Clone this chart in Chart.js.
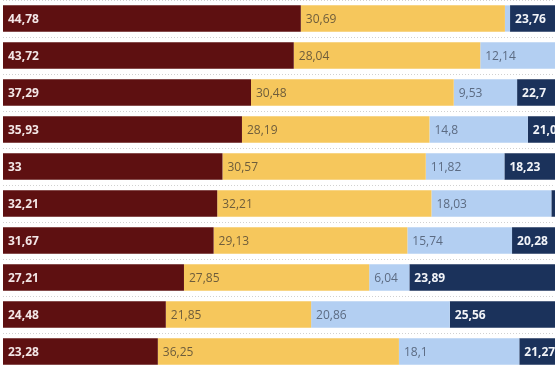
<!DOCTYPE html>
<html>
<head>
<meta charset="utf-8">
<script src="https://cdn.jsdelivr.net/npm/chart.js@4/dist/chart.umd.min.js"></script>
<style>
  html, body { margin: 0; padding: 0; background: #fff; }
  #chart { display: block; }
</style>
</head>
<body>
<canvas id="chart" width="555" height="370"></canvas>
<script>
// rows top to bottom
const categories = ['1', '2', '3', '4', '5', '6', '7', '8', '9', '10'];

const serieA = [44.78, 43.72, 37.29, 35.93, 33, 32.21, 31.67, 27.21, 24.48, 23.28];
const serieB = [30.69, 28.04, 30.48, 28.19, 30.57, 32.21, 29.13, 27.85, 21.85, 36.25];
const serieC = [0.77, 12.14, 9.53, 14.8, 11.82, 18.03, 15.74, 6.04, 20.86, 18.1];
const serieD = [23.76, 16.1, 22.7, 21.08, 18.23, 17.55, 20.28, 23.89, 25.56, 21.27];

const seriesNames = ['Serie A', 'Serie B', 'Serie C', 'Serie D'];

// label colours / weight per series
const labelStyle = [
  { color: '#f3e6e6', weight: 'bold' },
  { color: '#6e5d3c', weight: 'normal' },
  { color: '#5c6b82', weight: 'normal' },
  { color: '#f2f4f8', weight: 'bold' }
];

const fmt = (v) => String(v).replace('.', ',');

const barLabels = {
  id: 'barLabels',
  afterDatasetsDraw(chart) {
    const ctx = chart.ctx;
    ctx.save();
    ctx.textBaseline = 'middle';
    ctx.textAlign = 'left';
    chart.data.datasets.forEach((ds, i) => {
      const meta = chart.getDatasetMeta(i);
      const st = labelStyle[i];
      ctx.fillStyle = st.color;
      ctx.font = st.weight + ' 12px "Open Sans", sans-serif';
      meta.data.forEach((bar, j) => {
        const v = ds.data[j];
        if (v < 3) return;
        const p = bar.getProps(['x', 'y', 'base'], true);
        const left = Math.min(p.x, p.base);
        ctx.fillText(fmt(v), left + 5, p.y + 1);
      });
    });
    ctx.restore();
  }
};

new Chart(document.getElementById('chart'), {
  type: 'bar',
  data: {
    labels: categories,
    datasets: [
      { label: seriesNames[0], data: serieA, backgroundColor: '#5e1011' },
      { label: seriesNames[1], data: serieB, backgroundColor: '#f6c75c' },
      { label: seriesNames[2], data: serieC, backgroundColor: '#b3cff2' },
      { label: seriesNames[3], data: serieD, backgroundColor: '#1b325b' }
    ]
  },
  options: {
    indexAxis: 'y',
    responsive: false,
    animation: false,
    layout: { padding: { left: 3, right: 0, top: -3, bottom: -1 } },
    datasets: {
      bar: { barPercentage: 0.71, categoryPercentage: 1 }
    },
    plugins: {
      legend: { display: false },
      tooltip: { enabled: false }
    },
    scales: {
      x: {
        stacked: true,
        display: false,
        min: 0,
        max: 83
      },
      y: {
        stacked: true,
        ticks: { display: false },
        border: { display: false },
        grid: {
          offset: true,
          drawTicks: false,
          color: 'rgba(190, 190, 190, 0.7)',
          lineWidth: 1
        },
        border: { display: false, dash: [1, 2] }
      }
    }
  },
  plugins: [barLabels]
});
</script>
</body>
</html>
